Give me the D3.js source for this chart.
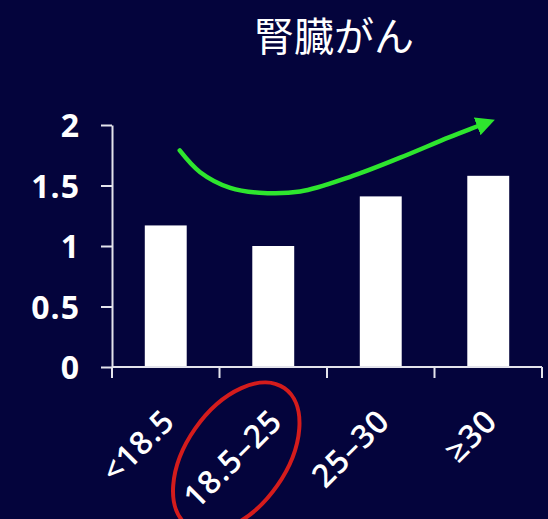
<!DOCTYPE html>
<html>
<head>
<meta charset="utf-8">
<script src="https://cdn.jsdelivr.net/npm/d3@7/dist/d3.min.js"></script>
<style>
  html, body { margin: 0; padding: 0; background: #04043c; }
  svg { display: block; }
</style>
</head>
<body>
<script>
// Relative risk of kidney cancer by BMI category
const title = "腎臓がん";
const categories = ["<18.5", "18.5–25", "25–30", "≥30"];
const values = [1.17, 1.0, 1.41, 1.58];
const yTicks = [0, 0.5, 1, 1.5, 2];
const yTickLabels = ["0", "0.5", "1", "1.5", "2"];
const highlighted = "18.5–25";

// Trend arrow: [category position (0 = first bar centre), value]
const trendPoints = [
  [0.13, 1.79], [0.32, 1.61], [0.60, 1.48], [0.87, 1.44], [1.25, 1.45],
  [1.71, 1.57], [2.18, 1.73], [2.64, 1.90], [2.93, 2.00]
];

const W = 548, H = 519;
const margin = { top: 125, right: 6, bottom: 152, left: 112 };

const svg = d3.select("body").append("svg")
  .attr("width", W).attr("height", H)
  .style("background", "#04043c");

const x = d3.scaleBand()
  .domain(categories)
  .range([margin.left, W - margin.right])
  .paddingInner(0.61).paddingOuter(0.305);

const y = d3.scaleLinear()
  .domain([0, 2])
  .range([H - margin.bottom, margin.top]);

// Position scale for annotations placed between bar centres
const xPos = d3.scaleLinear()
  .domain([0, categories.length - 1])
  .range([x(categories[0]) + x.bandwidth() / 2,
          x(categories[categories.length - 1]) + x.bandwidth() / 2]);

const axisColor = "#e4e4ec";
const tickLen = 11;

// Title
svg.append("text")
  .attr("x", 334).attr("y", 51)
  .attr("text-anchor", "middle")
  .attr("fill", "#ffffff")
  .style("font-family", "'Noto Sans CJK JP', sans-serif")
  .style("font-size", "40px")
  .text(title);

// Bars
svg.append("g").selectAll("rect")
  .data(values)
  .join("rect")
  .attr("x", (d, i) => x(categories[i]))
  .attr("y", d => y(d))
  .attr("width", x.bandwidth())
  .attr("height", d => y(0) - y(d))
  .attr("fill", "#ffffff");

// Y axis
const yAxis = svg.append("g")
  .attr("transform", `translate(${margin.left},0)`)
  .call(d3.axisLeft(y).tickValues(yTicks)
    .tickFormat((d, i) => yTickLabels[i])
    .tickSize(tickLen).tickSizeOuter(0).tickPadding(21));
yAxis.select(".domain").attr("stroke", axisColor).attr("stroke-width", 2);
yAxis.selectAll(".tick line").attr("stroke", axisColor).attr("stroke-width", 2);
yAxis.selectAll(".tick text")
  .attr("fill", "#ffffff")
  .style("font-family", "'Open Sans', sans-serif")
  .style("font-weight", "700")
  .style("font-size", "32px")
  .style("letter-spacing", "1px")
  .attr("dy", "0.36em");

// X axis: line, ticks on band boundaries, rotated labels
const xAxis = svg.append("g")
  .attr("transform", `translate(0,${y(0)})`);
xAxis.append("line")
  .attr("x1", margin.left).attr("x2", W - margin.right)
  .attr("stroke", axisColor).attr("stroke-width", 2);
const boundaries = d3.range(categories.length + 1)
  .map(i => x(categories[0]) - x.step() * x.paddingOuter() + i * x.step());
xAxis.selectAll(".bound")
  .data(boundaries)
  .join("line")
  .attr("class", "bound")
  .attr("x1", d => d).attr("x2", d => d)
  .attr("y1", 0).attr("y2", tickLen)
  .attr("stroke", axisColor).attr("stroke-width", 2);

xAxis.selectAll(".label")
  .data(categories)
  .join("text")
  .attr("class", "label")
  .attr("transform", d => `translate(${x(d) + x.bandwidth() / 2 + 11},56) rotate(-45)`)
  .attr("text-anchor", "end")
  .attr("fill", "#ffffff")
  .style("font-family", "'Open Sans', sans-serif")
  .style("font-weight", "600")
  .style("font-size", "32px")
  .style("letter-spacing", "1px")
  .text(d => d);

// Highlight ring round the reference category
const hx = x(highlighted) + x.bandwidth() / 2;
svg.append("ellipse")
  .attr("transform", `translate(${hx - 37},${y(0) + 90}) rotate(-55)`)
  .attr("rx", 84).attr("ry", 50)
  .attr("fill", "none")
  .attr("stroke", "#d41c1c")
  .attr("stroke-width", 4);

// Trend arrow
const green = "#2ee62e";
svg.append("defs").append("marker")
  .attr("id", "arrowhead")
  .attr("viewBox", "0 0 10 10")
  .attr("refX", 2).attr("refY", 5)
  .attr("markerWidth", 4.2).attr("markerHeight", 4.2)
  .attr("markerUnits", "strokeWidth")
  .attr("orient", "auto")
  .append("path")
  .attr("d", "M0,0 L10,5 L0,10 Z")
  .attr("fill", green);

svg.append("path")
  .datum(trendPoints)
  .attr("d", d3.line()
    .x(d => xPos(d[0]))
    .y(d => y(d[1]))
    .curve(d3.curveCatmullRom.alpha(0.5)))
  .attr("fill", "none")
  .attr("stroke", green)
  .attr("stroke-width", 4.5)
  .attr("stroke-linecap", "round")
  .attr("marker-end", "url(#arrowhead)");
</script>
</body>
</html>
